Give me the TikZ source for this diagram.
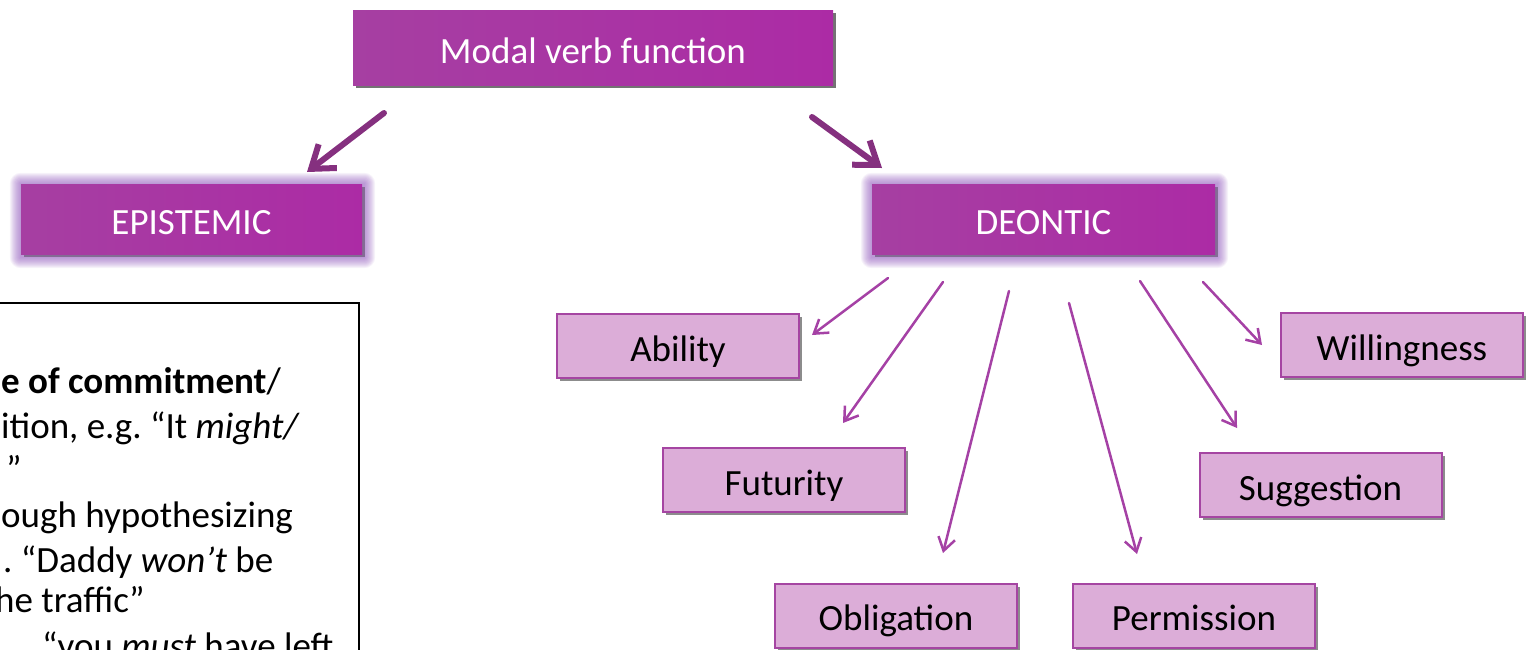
\documentclass[tikz,border=0pt]{standalone}
\usepackage{fontspec}
\setmainfont{Carlito}
\usetikzlibrary{arrows.meta,shadows,backgrounds}
\definecolor{dpL}{HTML}{A63FA2}
\definecolor{dpR}{HTML}{AC2BA5}
\definecolor{thickc}{HTML}{85307F}
\definecolor{thinc}{HTML}{A541A5}
\definecolor{lfill}{HTML}{DCADD8}
\definecolor{lborder}{HTML}{A545A2}
\definecolor{glowc}{HTML}{8A4FB8}
\frenchspacing
\begin{document}
\begin{tikzpicture}[x=1pt,y=-1pt,
  every node/.style={font=\fontsize{37}{44}\selectfont, inner sep=0pt},
  darkbox/.style={rectangle, left color=dpL, right color=dpR, text=white,
    text height=24pt, text depth=0pt},
  lightbox/.style={rectangle, fill=lfill, draw=lborder, line width=2pt,
    minimum width=242pt, minimum height=64pt, text height=30pt, text depth=0pt,
    drop shadow={shadow xshift=3pt, shadow yshift=-3pt, fill=black, opacity=0.45}},
  bigarrow/.style={draw=thickc, line width=6pt, line cap=round, line join=round,
    -{Straight Barb[length=21pt,width=30pt]}},
  smallarrow/.style={draw=thinc, line width=2.5pt, line cap=round, line join=round,
    -{Straight Barb[length=13pt,width=17pt]}},
  bodytext/.style={anchor=base west, text=black},
]
\useasboundingbox (0,0) rectangle (1532,649);
\clip (0,0) rectangle (1532,649);

% top and level-1 boxes
\node[darkbox, minimum width=480pt, minimum height=75pt,
  drop shadow={shadow xshift=3pt, shadow yshift=-3pt, fill=black, opacity=0.55}]
  (top) at (593,47.5) {\raisebox{-4pt}{Modal verb function}};
\node[darkbox, minimum width=341pt, minimum height=70pt,
  drop shadow={shadow xshift=3pt, shadow yshift=-3pt, fill=black, opacity=0.3}]
  (epi) at (191.5,219) {\raisebox{-3pt}{EPISTEMIC}};
\node[darkbox, minimum width=343pt, minimum height=70pt,
  drop shadow={shadow xshift=3pt, shadow yshift=-3pt, fill=black, opacity=0.3}]
  (deo) at (1043.5,219) {\raisebox{-3pt}{DEONTIC}};

\begin{scope}[on background layer]
\foreach \n in {epi,deo}{
  \foreach \i in {1,...,11}{
    \fill[glowc, opacity=0.075, rounded corners={\i*1pt}]
      ([xshift={-\i*1pt}, yshift={\i*1pt}]\n.north west) rectangle
      ([xshift={(\i+2)*1pt}, yshift={-(\i+3)*1pt}]\n.south east);
  }
}
\end{scope}

% deontic sub-boxes
\node[lightbox] (abi) at (678,346) {Ability};
\node[lightbox] (wil) at (1402,345) {Willingness};
\node[lightbox] (fut) at (784,480) {Futurity};
\node[lightbox] (sug) at (1320.5,485) {Suggestion};
\node[lightbox] (obl) at (896,615.5) {Obligation};
\node[lightbox] (per) at (1194,615.5) {Permission};

% arrow end points (arrows float free of the boxes)
\coordinate (t1s) at (384,113);  \coordinate (t1e) at (307,172);
\coordinate (t2s) at (812,117);  \coordinate (t2e) at (882,168);
\coordinate (abs) at (888,278);  \coordinate (abe) at (812,335);
\coordinate (fus) at (943,282);  \coordinate (fue) at (843,423);
\coordinate (obs) at (1009,291); \coordinate (obe) at (943,553);
\coordinate (pes) at (1069,303); \coordinate (pee) at (1137,554);
\coordinate (sus) at (1140,281); \coordinate (sue) at (1237,428);
\coordinate (wis) at (1203,282); \coordinate (wie) at (1262,345);

\draw[bigarrow] (t1s) -- (t1e);
\draw[bigarrow] (t2s) -- (t2e);
\draw[smallarrow] (abs) -- (abe);
\draw[smallarrow] (fus) -- (fue);
\draw[smallarrow] (obs) -- (obe);
\draw[smallarrow] (pes) -- (pee);
\draw[smallarrow] (sus) -- (sue);
\draw[smallarrow] (wis) -- (wie);

% left text box (cut off by the picture edge)
\node[draw=black, line width=2pt, minimum width=380pt, minimum height=420pt,
  anchor=north east] (leftbox) at (360,302) {};
\node[bodytext] (l1) at (1,393) {\textbf{e of commitment}/};
\node[bodytext] (l2) at (1,438) {ition, e.g. “It \textit{might/}};
\node[bodytext] (l3) at (6,481) {”};
\node[bodytext] (l4) at (1,527) {ough hypothesizing};
\node[bodytext] (l5) at (3,572) {. “Daddy \textit{won’t} be};
\node[bodytext] (l6) at (-5,612) {he traffic”};
\node[bodytext] (l7) at (42,658) {“you \textit{must} have left};
\end{tikzpicture}
\end{document}
